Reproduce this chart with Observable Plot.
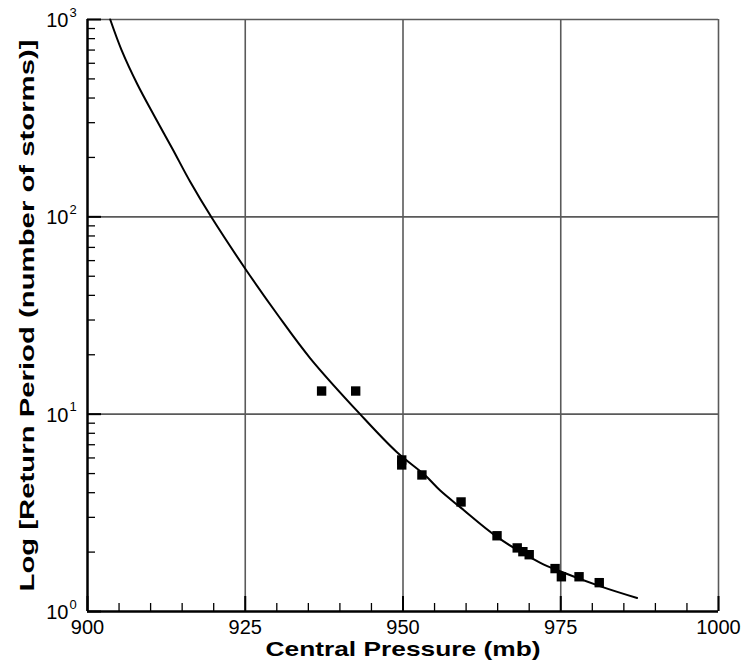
<!DOCTYPE html>
<html>
<head>
<meta charset="utf-8">
<script src="https://cdn.jsdelivr.net/npm/d3@7"></script>
<script src="https://cdn.jsdelivr.net/npm/@observablehq/plot@0.6"></script>
<style>
  html, body { margin: 0; padding: 0; background: white; }
</style>
</head>
<body>
<div id="chart"></div>
<script>
// Observed storms (squares)
const pressureObs = [937.1, 942.5, 949.8, 949.8, 953.0, 959.2, 964.9, 968.1, 969.0, 970.0, 974.1, 975.1, 977.9, 981.1];
const returnObs   = [13.1, 13.1, 5.86, 5.53, 4.92, 3.59, 2.42, 2.10, 2.01, 1.94, 1.65, 1.50, 1.50, 1.40];

// Fitted curve
const pressureFit = [903.6, 905.4, 907.9, 910.7, 913.5, 916.3, 919.6, 925, 930.1, 935.3, 943.2, 949, 953.5, 955.9, 959.2, 964.9, 971.7, 975.1, 981.3, 987.1];
const returnFit   = [1000, 700, 470, 320, 220, 150, 100, 54.6, 32, 19.2, 10, 6.43, 4.9, 4.1, 3.35, 2.39, 1.77, 1.59, 1.34, 1.17];

// Axis ticks
const xTickLabels = [900, 925, 950, 975, 1000];
const xMinorTicks = [905, 910, 915, 920, 930, 935, 940, 945, 955, 960, 965, 970, 980, 985, 990, 995];
const yTickValues = [1, 10, 100, 1000];
const yMinorTicks = [2,3,4,5,6,7,8,9,20,30,40,50,60,70,80,90,200,300,400,500,600,700,800,900];

const xLabel = "Central Pressure (mb)";
const yLabel = "Log [Return Period (number of storms)]";

const obs = pressureObs.map((p, i) => ({p, r: returnObs[i]}));
const fit = pressureFit.map((p, i) => ({p, r: returnFit[i]}));

const W = 749, H = 666, ML = 87, MR = 31, MT = 19, MB = 55;
const innerW = W - ML - MR, innerH = H - MT - MB;
const gridColor = "#5a5a5a";

const svg = Plot.plot({
  width: W, height: H,
  marginLeft: ML, marginRight: MR, marginTop: MT, marginBottom: MB,
  style: {fontFamily: "'Liberation Sans', Arial, sans-serif", background: "white", color: "black", overflow: "visible"},
  x: {domain: [900, 1000], axis: null},
  y: {type: "log", domain: [1, 1000], axis: null},
  marks: [
    Plot.ruleX(xTickLabels.slice(1), {stroke: gridColor, strokeWidth: 1.6}),
    Plot.ruleY(yTickValues.slice(1), {stroke: gridColor, strokeWidth: 1.6}),
    Plot.ruleX(xMinorTicks, {stroke: "black", strokeWidth: 1.3, insetTop: innerH - 8}),
    Plot.ruleX(xTickLabels, {stroke: "black", strokeWidth: 2, insetTop: innerH - 15}),
    Plot.ruleY(yMinorTicks, {stroke: "black", strokeWidth: 1.3, insetRight: innerW - 8}),
    Plot.ruleY(yTickValues, {stroke: "black", strokeWidth: 2, insetRight: innerW - 14}),
    Plot.line(fit, {x: "p", y: "r", curve: "catmull-rom", stroke: "black", strokeWidth: 2}),
    Plot.dot(obs, {x: "p", y: "r", symbol: "square", r: 5.3, fill: "black", stroke: "none"}),
    Plot.ruleX([900], {stroke: "black", strokeWidth: 2.5}),
    Plot.ruleY([1], {stroke: "black", strokeWidth: 2.5}),
    Plot.text(xTickLabels, {x: d => d, text: d => String(d), frameAnchor: "bottom", lineAnchor: "top", dy: 8, fontSize: 20, fill: "black"}),
    Plot.text(yTickValues, {y: d => d, text: () => "10", frameAnchor: "left", textAnchor: "end", dx: -19, dy: 1, fontSize: 20, fill: "black"}),
    Plot.text(yTickValues, {y: d => d, text: d => String(Math.round(Math.log10(d))), frameAnchor: "left", textAnchor: "start", dx: -18, dy: -7, fontSize: 13, fill: "black"}),
    Plot.text([xLabel], {text: d => d, frameAnchor: "bottom-left", textAnchor: "start", dx: 178, dy: 44, fontSize: 21, fontWeight: "bold", fill: "black"}),
    Plot.text([yLabel], {text: d => d, frameAnchor: "left", textAnchor: "start", rotate: -90, dx: -60, dy: 276, fontSize: 21, fontWeight: "bold", fill: "black"})
  ]
});

svg.querySelectorAll("text").forEach(t => {
  if (t.textContent === xLabel) {
    t.setAttribute("textLength", 275);
    t.setAttribute("lengthAdjust", "spacingAndGlyphs");
  } else if (t.textContent === yLabel) {
    t.setAttribute("textLength", 552);
    t.setAttribute("lengthAdjust", "spacingAndGlyphs");
  }
});

document.getElementById("chart").appendChild(svg);
</script>
</body>
</html>
